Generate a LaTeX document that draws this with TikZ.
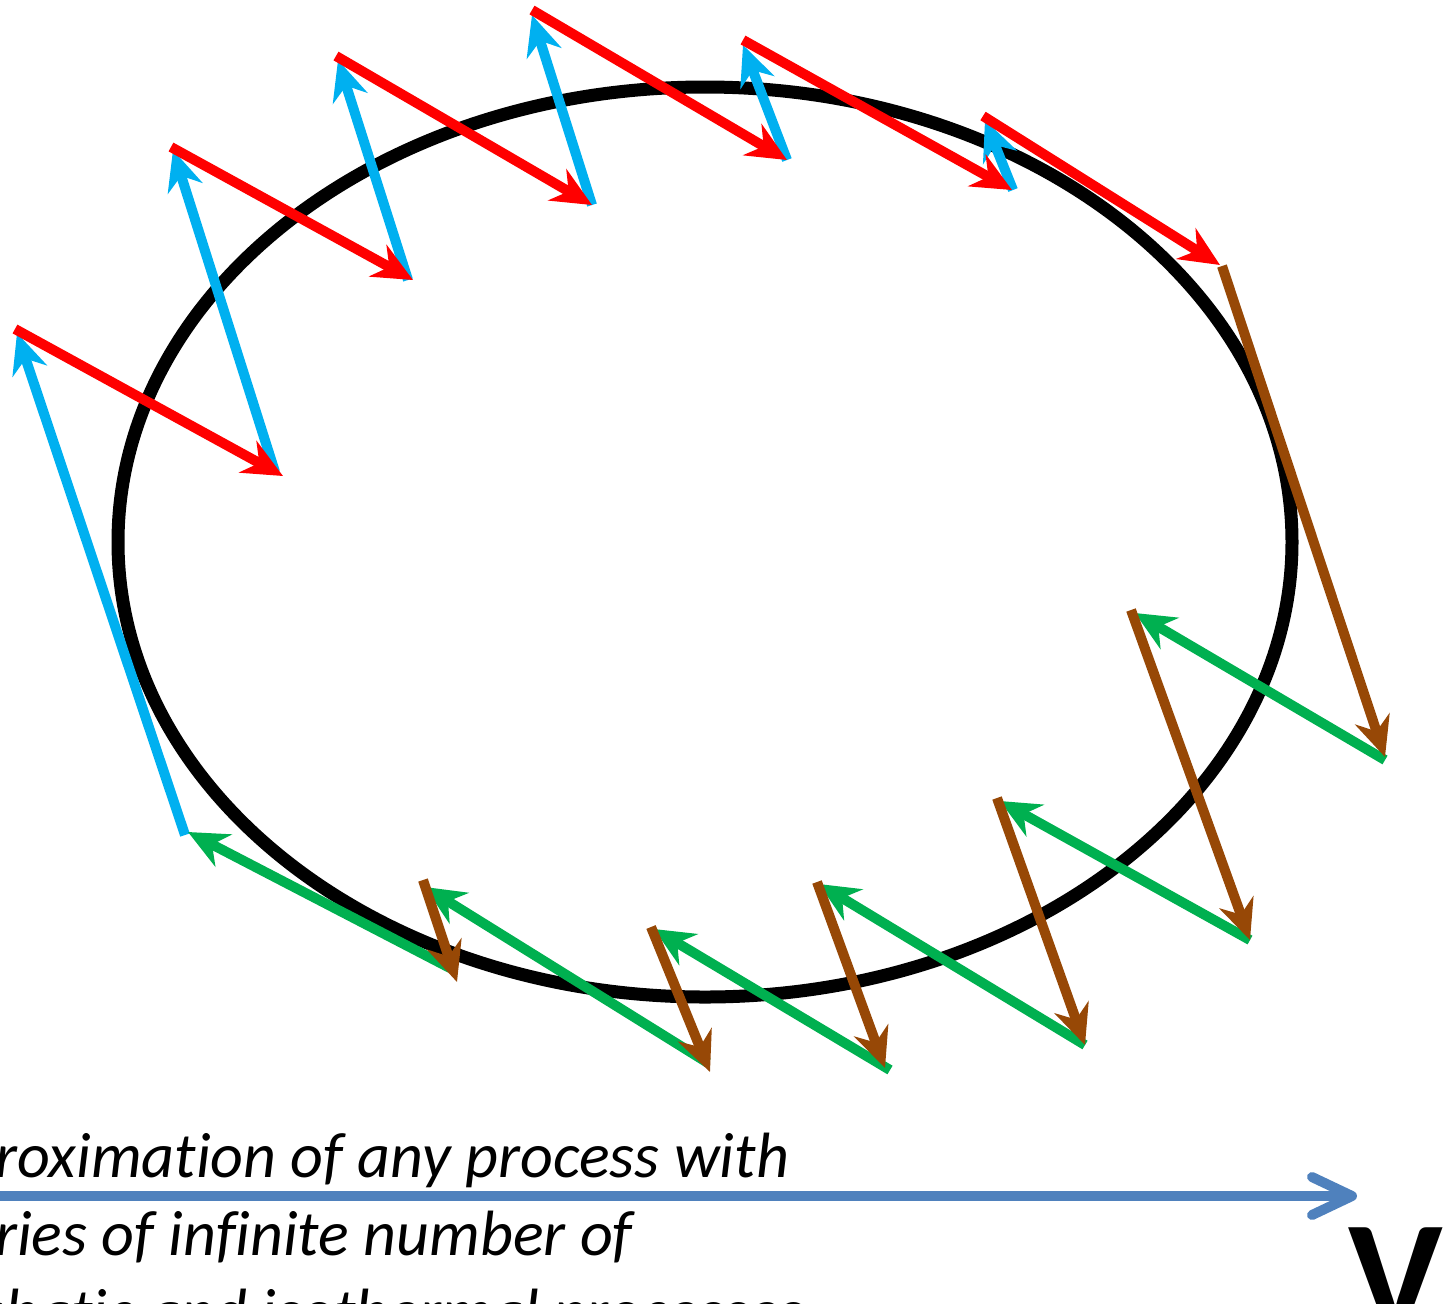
\documentclass[tikz,border=0pt]{standalone}
\usepackage{fontspec}
\setmainfont{Carlito}[Ligatures=NoCommon]
\usetikzlibrary{arrows.meta}
\definecolor{cred}{HTML}{FF0000}
\definecolor{cblue}{HTML}{00B0F0}
\definecolor{cbrown}{HTML}{974806}
\definecolor{cgreen}{HTML}{00B050}
\definecolor{caxis}{HTML}{4F81BD}
\tikzset{
  proc/.style={line width=5pt, -{Stealth[length=20pt,width=18pt,inset=6.5pt]}},
  iso/.style={proc, cred},
  adia/.style={proc, cblue},
  adiadown/.style={proc, cbrown},
  isoback/.style={proc, cgreen},
  axisarrow/.style={line width=5pt, caxis, -{Straight Barb[length=20pt,width=19pt,line cap=round,line join=round]}},
  cyc/.style={line width=6.5pt, black},
  txtline/.style={anchor=base west, inner sep=0pt, font=\itshape\fontsize{32}{39}\selectfont},
}
\begin{document}
\begin{tikzpicture}[x=0.5pt,y=-0.5pt]
\useasboundingbox (0,0) rectangle (1445,1303);
\clip (0,0) rectangle (1445,1303);
% cycle
\node[draw=none, inner sep=0pt, minimum size=0pt] (c) at (705,542) {};
\draw[cyc] (c) ellipse [x radius=587, y radius=455];
% points
\coordinate (b1s) at (185,835);  \coordinate (b1e) at (17,333);
\coordinate (r1s) at (15,329);   \coordinate (r1e) at (283,476);
\coordinate (b2s) at (275,472);  \coordinate (b2e) at (173,150);
\coordinate (r2s) at (171,147);  \coordinate (r2e) at (413,280);
\coordinate (b3s) at (408,280);  \coordinate (b3e) at (338,60);
\coordinate (r3s) at (336,56);   \coordinate (r3e) at (592,205);
\coordinate (b4s) at (592,205);  \coordinate (b4e) at (532,15);
\coordinate (r4s) at (532,10);   \coordinate (r4e) at (787,160);
\coordinate (b5s) at (787,160);  \coordinate (b5e) at (743,45);
\coordinate (r5s) at (743,40);   \coordinate (r5e) at (1012,190);
\coordinate (b6s) at (1013,190); \coordinate (b6e) at (985,120);
\coordinate (r6s) at (983,116);  \coordinate (r6e) at (1220,265);
\coordinate (w1s) at (1222,266); \coordinate (w1e) at (1385,757);
\coordinate (g1s) at (1385,760); \coordinate (g1e) at (1135,613);
\coordinate (w2s) at (1131,610); \coordinate (w2e) at (1250,940);
\coordinate (g2s) at (1250,940); \coordinate (g2e) at (1000,801);
\coordinate (w3s) at (997,798);  \coordinate (w3e) at (1085,1045);
\coordinate (g3s) at (1085,1045);\coordinate (g3e) at (819,884);
\coordinate (w4s) at (817,882);  \coordinate (w4e) at (885,1068);
\coordinate (g4s) at (890,1070); \coordinate (g4e) at (654,929);
\coordinate (w5s) at (651,927);  \coordinate (w5e) at (710,1072);
\coordinate (g5s) at (708,1063); \coordinate (g5e) at (425,887);
\coordinate (w6s) at (423,880);  \coordinate (w6e) at (457,982);
\coordinate (g6s) at (450,968);  \coordinate (g6e) at (188,832);
% adiabatic up (blue)
\draw[adia] (b1s) -- (b1e);
\draw[adia] (b2s) -- (b2e);
\draw[adia] (b3s) -- (b3e);
\draw[adia] (b4s) -- (b4e);
\draw[adia] (b5s) -- (b5e);
\draw[adia] (b6s) -- (b6e);
% isothermal (red)
\draw[iso] (r1s) -- (r1e);
\draw[iso] (r2s) -- (r2e);
\draw[iso] (r3s) -- (r3e);
\draw[iso] (r4s) -- (r4e);
\draw[iso] (r5s) -- (r5e);
\draw[iso] (r6s) -- (r6e);
% green
\draw[isoback] (g1s) -- (g1e);
\draw[isoback] (g2s) -- (g2e);
\draw[isoback] (g3s) -- (g3e);
\draw[isoback] (g4s) -- (g4e);
\draw[isoback] (g5s) -- (g5e);
\draw[isoback] (g6s) -- (g6e);
% brown
\draw[adiadown] (w1s) -- (w1e);
\draw[adiadown] (w2s) -- (w2e);
\draw[adiadown] (w3s) -- (w3e);
\draw[adiadown] (w4s) -- (w4e);
\draw[adiadown] (w5s) -- (w5e);
\draw[adiadown] (w6s) -- (w6e);
% axis
\coordinate (ha) at (-20,1196);
\coordinate (hb) at (1357,1196);
\draw[axisarrow] (ha) -- (hb);
% texts
\node[txtline] (t1) at (-108,1177) {Approximation of any process with};
\node[txtline] (t2) at (-108,1255) {a series of infinite number of};
\node[txtline] (t3) at (-108,1333) {adiabatic and isothermal processes};
\node[anchor=base west, inner sep=0pt, font=\bfseries\fontsize{80}{80}\selectfont] (V) at (1348,1331) {V};
\end{tikzpicture}
\end{document}
